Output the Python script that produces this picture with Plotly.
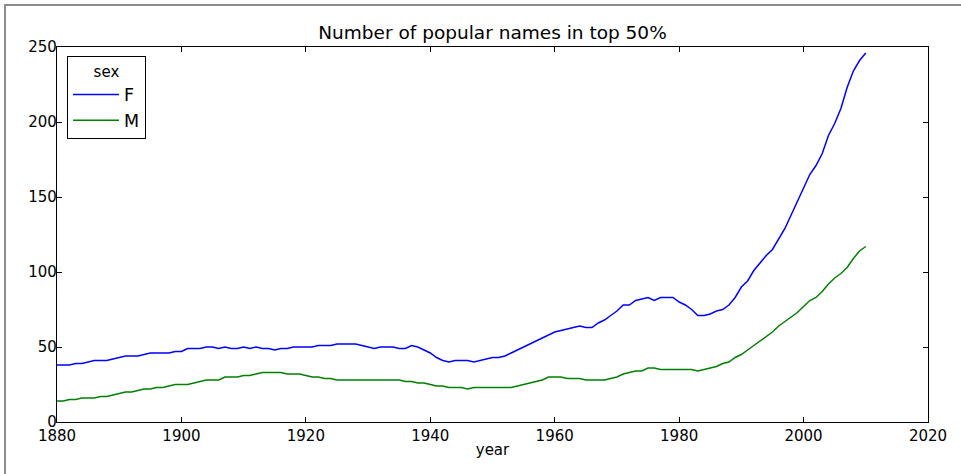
import plotly.graph_objects as go

years = list(range(1880, 2011))

female = [38, 38, 38, 39, 39, 40, 41, 41, 41, 42,
          43, 44, 44, 44, 45, 46, 46, 46, 46, 47,
          47, 49, 49, 49, 50, 50, 49, 50, 49, 49,
          50, 49, 50, 49, 49, 48, 49, 49, 50, 50,
          50, 50, 51, 51, 51, 52, 52, 52, 52, 51,
          50, 49, 50, 50, 50, 49, 49, 51, 50, 48,
          46, 43, 41, 40, 41, 41, 41, 40, 41, 42,
          43, 43, 44, 46, 48, 50, 52, 54, 56, 58,
          60, 61, 62, 63, 64, 63, 63, 66, 68, 71,
          74, 78, 78, 81, 82, 83, 81, 83, 83, 83,
          80, 78, 75, 71, 71, 72, 74, 75, 78, 83,
          90, 94, 101, 106, 111, 115, 122, 129, 138, 147,
          156, 165, 171, 179, 191, 199, 209, 223, 234, 241,
          246]

male = [14, 14, 15, 15, 16, 16, 16, 17, 17, 18,
        19, 20, 20, 21, 22, 22, 23, 23, 24, 25,
        25, 25, 26, 27, 28, 28, 28, 30, 30, 30,
        31, 31, 32, 33, 33, 33, 33, 32, 32, 32,
        31, 30, 30, 29, 29, 28, 28, 28, 28, 28,
        28, 28, 28, 28, 28, 28, 27, 27, 26, 26,
        25, 24, 24, 23, 23, 23, 22, 23, 23, 23,
        23, 23, 23, 23, 24, 25, 26, 27, 28, 30,
        30, 30, 29, 29, 29, 28, 28, 28, 28, 29,
        30, 32, 33, 34, 34, 36, 36, 35, 35, 35,
        35, 35, 35, 34, 35, 36, 37, 39, 40, 43,
        45, 48, 51, 54, 57, 60, 64, 67, 70, 73,
        77, 81, 83, 87, 92, 96, 99, 103, 109, 114,
        117]

x_ticks = [1880, 1900, 1920, 1940, 1960, 1980, 2000, 2020]
y_ticks = [0, 50, 100, 150, 200, 250]

FONT = "DejaVu Sans"
W, H = 961, 474
# plot area in pixels (left, right, top, bottom)
PL, PR, PT, PB = 57, 928, 47, 422


def fx(x):
    return x / W


def fy(y):
    return 1 - y / H


fig = go.Figure()
fig.add_trace(go.Scatter(x=years, y=female, mode="lines", name="F",
                         line=dict(color="#0000ff", width=1.5)))
fig.add_trace(go.Scatter(x=years, y=male, mode="lines", name="M",
                         line=dict(color="#008000", width=1.5)))
# empty helper subplot whose axis lines form the screenshot frame (top and left edges)
fig.add_trace(go.Scatter(x=[], y=[], xaxis="x2", yaxis="y2", showlegend=False,
                         hoverinfo="skip"))

axis_common = dict(showline=True, linecolor="black", linewidth=1.2, mirror="allticks",
                   ticks="inside", ticklen=5, tickcolor="black", tickwidth=1,
                   showgrid=False, zeroline=False, automargin=False,
                   tickfont=dict(family=FONT, size=15, color="black"))

frame_axis = dict(showline=True, linecolor="#8c8c8c", linewidth=1.5, mirror=False,
                  ticks="", showticklabels=False, showgrid=False, zeroline=False,
                  range=[0, 1], fixedrange=True, automargin=False)

fig.update_layout(
    width=W, height=H,
    margin=dict(l=0, r=0, t=0, b=0, pad=0, autoexpand=False),
    paper_bgcolor="white", plot_bgcolor="rgba(0,0,0,0)",
    title=dict(text="Number of popular names in top 50%",
               xref="paper", x=fx(492.5), xanchor="center",
               yref="container", y=fy(33), yanchor="middle",
               font=dict(family=FONT, size=18.5, color="black")),
    xaxis=dict(domain=[fx(PL), fx(PR)], range=[1880, 2020],
               tickvals=x_ticks, ticktext=[str(v) for v in x_ticks],
               title=dict(text="year", font=dict(family=FONT, size=15, color="black"), standoff=0),
               **axis_common),
    yaxis=dict(domain=[fy(PB), fy(PT)], range=[0, 250],
               tickvals=y_ticks, ticktext=[str(v) for v in y_ticks],
               ticklabelstandoff=-4, **axis_common),
    xaxis2=dict(domain=[fx(6), 1], anchor="y2", side="top", **frame_axis),
    yaxis2=dict(domain=[0, fy(6)], anchor="x2", side="left", **frame_axis),
    legend=dict(x=fx(67), y=fy(56), xanchor="left", yanchor="top",
                bgcolor="white", bordercolor="black", borderwidth=1,
                font=dict(family=FONT, size=17.5, color="black"),
                title=dict(text="sex", side="top center",
                           font=dict(family=FONT, size=15, color="black")),
                itemwidth=46, tracegroupgap=0),
    showlegend=True,
)

fig.write_html("out.html", config={"displayModeBar": False},
               post_script="document.body.style.margin='0px';")
